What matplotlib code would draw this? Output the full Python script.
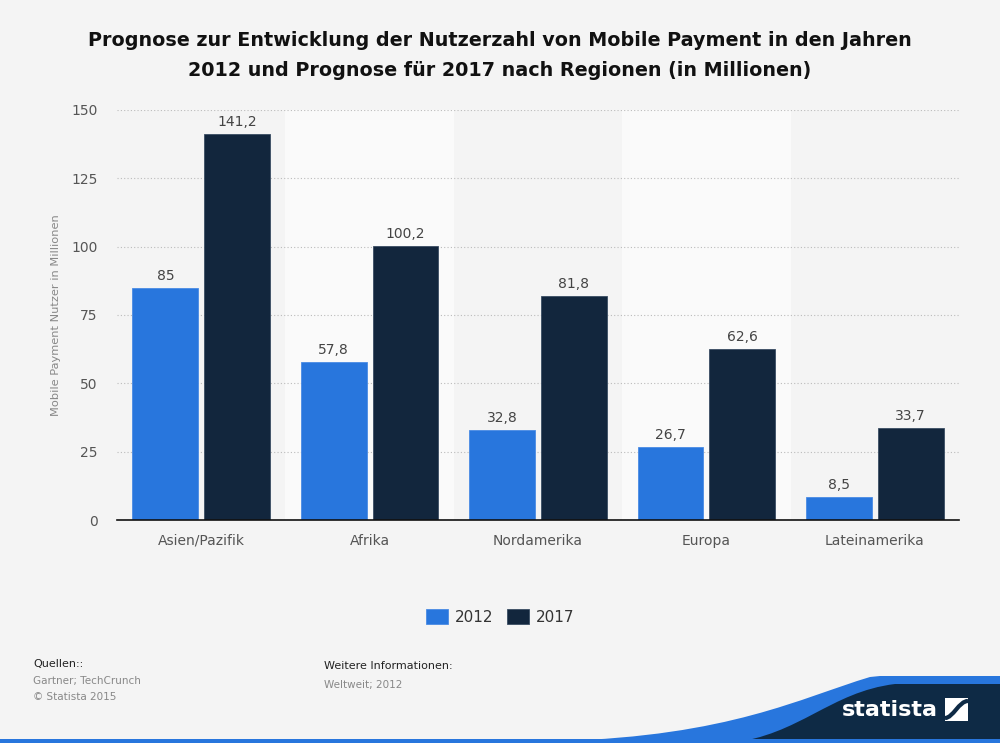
import numpy as np
import matplotlib as mpl
mpl.use('Agg')
import matplotlib.pyplot as plt  # noqa
from matplotlib.path import Path  # noqa
from matplotlib.patches import PathPatch, Rectangle  # noqa

regions = ['Asien/Pazifik', 'Afrika', 'Nordamerika', 'Europa', 'Lateinamerika']
users_2012 = [85, 57.8, 32.8, 26.7, 8.5]
users_2017 = [141.2, 100.2, 81.8, 62.6, 33.7]
series = ['2012', '2017']
yticks = [0, 25, 50, 75, 100, 125, 150]

blue = '#2876dd'
navy = '#12263d'
bg = '#f4f4f4'
font = 'DejaVu Sans'


def fmt(v):
    s = '{:g}'.format(v)
    return s.replace('.', ',')


fig = plt.figure(figsize=(10, 7.43), dpi=100, facecolor=bg)
ax = fig.add_axes([0.117, 0.3001, 0.842, 0.552])
ax.set_facecolor(bg)

x = np.arange(len(regions))
# alternating category bands
for i in x:
    if i % 2 == 1:
        ax.axvspan(i - 0.5, i + 0.5, color='#fafafa', zorder=0, lw=0)

w = 0.39
off = 0.213
b1 = ax.bar(x - off, users_2012, w, color=blue, zorder=3, label=series[0],
            edgecolor='#4a8be4', linewidth=0.6)
b2 = ax.bar(x + off, users_2017, w, color=navy, zorder=3, label=series[1],
            edgecolor='#3a4d63', linewidth=0.6)
for bars, vals in ((b1, users_2012), (b2, users_2017)):
    for rect, v in zip(bars, vals):
        ax.text(rect.get_x() + rect.get_width() / 2, v + 1.8, fmt(v),
                ha='center', va='bottom', fontsize=10, color='#444444',
                family=font)

ax.set_xlim(-0.5, len(regions) - 0.5)
ax.set_ylim(0, 150)
ax.set_yticks(yticks)
ax.set_yticklabels([str(t) for t in yticks], family=font, fontsize=10,
                   color='#555555')
ax.set_xticks(x)
ax.set_xticklabels(regions, family=font, fontsize=10, color='#555555')
ax.tick_params(axis='y', length=0, pad=14)
ax.tick_params(axis='x', length=0, pad=10)
ax.yaxis.grid(True, ls=(0, (1, 2)), color='#bbbbbb', lw=0.8, zorder=1)
ax.set_axisbelow(True)
for s in ['top', 'right', 'left']:
    ax.spines[s].set_visible(False)
ax.spines['bottom'].set_color('#111111')
ax.spines['bottom'].set_linewidth(1.2)
ax.spines['bottom'].set_zorder(5)
ax.set_ylabel('Mobile Payment Nutzer in Millionen', family=font,
              fontsize=8.2, color='#888888', labelpad=7)

leg = fig.legend(handles=[b1, b2], labels=series, loc='center',
                 bbox_to_anchor=(0.5, 1 - 617 / 743), ncol=2, frameon=False,
                 prop={'size': 11, 'family': font}, handlelength=1.45,
                 handleheight=1.1, columnspacing=0.9, handletextpad=0.45)
for t in leg.get_texts():
    t.set_color('#333333')

fig.text(0.5, 1 - 40 / 743, 'Prognose zur Entwicklung der Nutzerzahl von '
         'Mobile Payment in den Jahren', ha='center', va='center',
         fontsize=13.8, fontweight='bold', color='#111111')
fig.text(0.5, 1 - 71 / 743, '2012 und Prognose f\u00fcr 2017 nach Regionen '
         '(in Millionen)', ha='center', va='center', fontsize=13.8,
         fontweight='bold', color='#111111')

# footer texts
fig.text(0.033, 1 - 664 / 743, 'Quellen::', fontsize=8, color='#222222',
         family=font, va='center')
fig.text(0.033, 1 - 681 / 743, 'Gartner; TechCrunch', fontsize=7.5,
         color='#888888', family=font, va='center')
fig.text(0.033, 1 - 697 / 743, '\u00a9 Statista 2015', fontsize=7.5,
         color='#888888', family=font, va='center')
fig.text(0.324, 1 - 666 / 743, 'Weitere Informationen:', fontsize=8,
         color='#222222', family=font, va='center')
fig.text(0.324, 1 - 685 / 743, 'Weltweit; 2012', fontsize=7.5,
         color='#888888', family=font, va='center')

# statista logo band in pixel coordinates
ov = fig.add_axes([0, 0, 1, 1], zorder=-1)
ov.set_xlim(0, 1000)
ov.set_ylim(743, 0)
ov.axis('off')
ov.patch.set_alpha(0)
blue_path = Path([(560, 741), (730, 736), (800, 698), (870, 677),
                  (880, 676), (1000, 676), (1000, 743), (560, 743)],
                 [Path.MOVETO, Path.CURVE4, Path.CURVE4, Path.CURVE4,
                  Path.LINETO, Path.LINETO, Path.LINETO, Path.CLOSEPOLY])
ov.add_patch(PathPatch(blue_path, fc=blue, ec='none'))
navy_path = Path([(730, 743), (800, 735), (830, 692), (895, 684),
                  (900, 684), (1000, 684), (1000, 743), (730, 743)],
                 [Path.MOVETO, Path.CURVE4, Path.CURVE4, Path.CURVE4,
                  Path.LINETO, Path.LINETO, Path.LINETO, Path.CLOSEPOLY])
ov.add_patch(PathPatch(navy_path, fc='#0e2a45', ec='none'))
ov.add_patch(Rectangle((0, 739), 1000, 4, fc=blue, ec='none'))
ov.text(890, 710, 'statista', color='white', fontsize=16, fontweight='bold',
        ha='center', va='center', family=font)
ov.add_patch(Rectangle((945, 698), 23, 23, fc='white', ec='none'))
s_path = Path([(945, 718), (953, 718), (959, 701), (968, 701)],
              [Path.MOVETO, Path.CURVE4, Path.CURVE4, Path.CURVE4])
ov.add_patch(PathPatch(s_path, fc='none', ec='#0e2a45', lw=3))

fig.savefig('out.png', dpi=100, facecolor=bg)
